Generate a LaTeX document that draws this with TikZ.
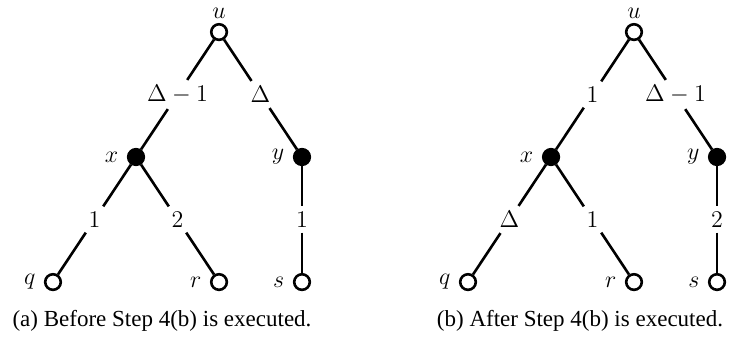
\documentclass[tikz,border=0pt]{standalone}
\usepackage{fontspec}
\newfontfamily\capfont{Liberation Serif}
\usetikzlibrary{calc}
\tikzset{
  vopen/.style={circle, draw, line width=1.3pt, fill=white, minimum size=7.8pt, inner sep=0pt},
  vfull/.style={circle, draw, line width=1.3pt, fill=black, minimum size=7.8pt, inner sep=0pt},
  vlbl/.style={font=\fontsize{13}{15}\selectfont, inner sep=1.5pt, label distance=2.6pt},
  toplbl/.style={vlbl, inner sep=1pt, label distance=1pt},
  elbl/.style={inner sep=2.5pt, font=\fontsize{13}{15}\selectfont},
  ed/.style={line width=1.3pt},
  subcap/.style={font=\capfont\fontsize{11.5}{14}\selectfont, inner sep=1pt},
}

\begin{document}
\begin{tikzpicture}
        \useasboundingbox (0,0) rectangle (12.828,5.940);
        % (a) before
        \node[vopen, label={[toplbl]above:$u$}] (ua) at (3.849,5.377) {};
        \node[vfull, label={[vlbl]left:$x$}] (xa) at (2.390,3.181) {};
        \node[vfull, label={[vlbl]left:$y$}] (ya) at (5.307,3.181) {};
        \node[vopen, label={[vlbl]left:$q$}] (qa) at (0.931,0.984) {};
        \node[vopen, label={[vlbl]left:$r$}] (ra) at (3.849,0.984) {};
        \node[vopen, label={[vlbl]left:$s$}] (sa) at (5.307,0.984) {};
        \node[elbl] (uxa) at ($(ua)!.5!(xa)$) {$\Delta-1$};
        \node[elbl] (uya) at ($(ua)!.5!(ya)$) {$\Delta$};
        \node[elbl] (xqa) at ($(xa)!.5!(qa)$) {$1$};
        \node[elbl] (xra) at ($(xa)!.5!(ra)$) {$2$};
        \node[elbl] (ysa) at ($(ya)!.5!(sa)$) {$1$};
        \draw[ed] (ua) -- (uxa) -- (xa);
        \draw[ed] (ua) -- (uya) -- (ya);
        \draw[ed] (xa) -- (xqa) -- (qa);
        \draw[ed] (xa) -- (xra) -- (ra);
        \draw[ed] (ya) -- (ysa) -- (sa);
        \node[subcap] (capa) at (2.847,0.299) {(a) Before Step 4(b) is executed.};
        % (b) after
        \node[vopen, label={[toplbl]above:$u$}] (ub) at (11.141,5.377) {};
        \node[vfull, label={[vlbl]left:$x$}] (xb) at (9.683,3.181) {};
        \node[vfull, label={[vlbl]left:$y$}] (yb) at (12.600,3.181) {};
        \node[vopen, label={[vlbl]left:$q$}] (qb) at (8.224,0.984) {};
        \node[vopen, label={[vlbl]left:$r$}] (rb) at (11.141,0.984) {};
        \node[vopen, label={[vlbl]left:$s$}] (sb) at (12.600,0.984) {};
        \node[elbl] (uxb) at ($(ub)!.5!(xb)$) {$1$};
        \node[elbl] (uyb) at ($(ub)!.5!(yb)$) {$\Delta-1$};
        \node[elbl] (xqb) at ($(xb)!.5!(qb)$) {$\Delta$};
        \node[elbl] (xrb) at ($(xb)!.5!(rb)$) {$1$};
        \node[elbl] (ysb) at ($(yb)!.5!(sb)$) {$2$};
        \draw[ed] (ub) -- (uxb) -- (xb);
        \draw[ed] (ub) -- (uyb) -- (yb);
        \draw[ed] (xb) -- (xqb) -- (qb);
        \draw[ed] (xb) -- (xrb) -- (rb);
        \draw[ed] (yb) -- (ysb) -- (sb);
        \node[subcap] (capb) at (10.192,0.299) {(b) After Step 4(b) is executed.};
\end{tikzpicture}
\end{document}
